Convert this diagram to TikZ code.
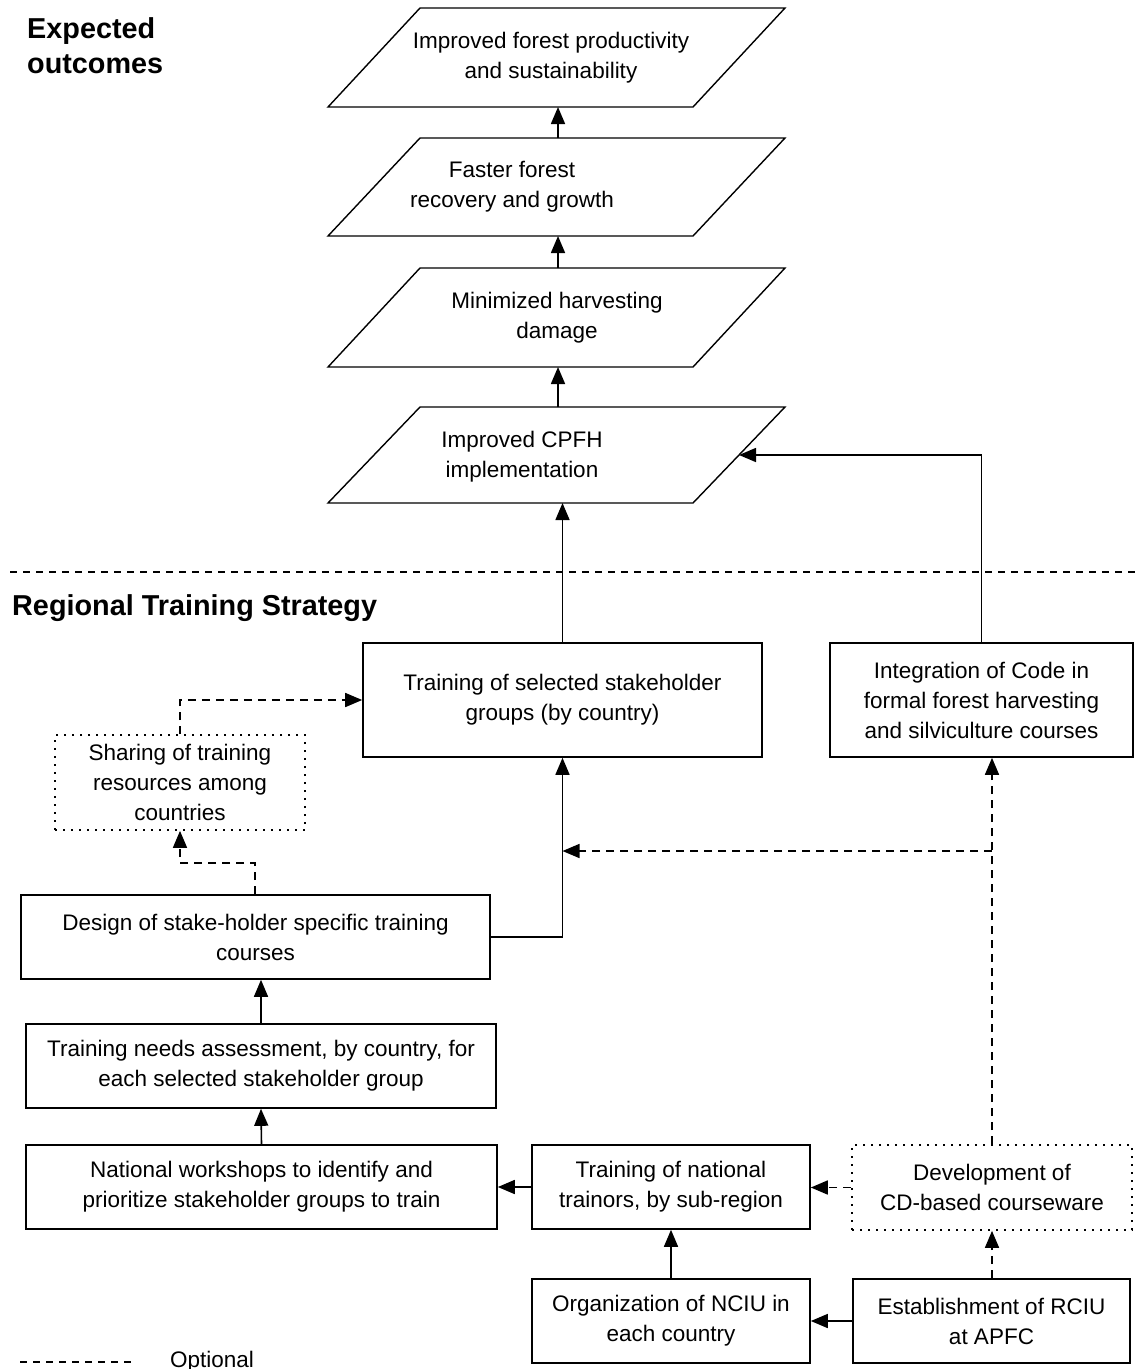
\documentclass[tikz,border=0pt]{standalone}
\usepackage{fontspec}
\setmainfont{Liberation Sans}
\usetikzlibrary{arrows.meta,calc}
\begin{document}
\begin{tikzpicture}[x=1pt,y=-1pt,
  every node/.style={font=\fontsize{22.5}{30}\selectfont, align=center, inner sep=0pt},
  box/.style={draw, line width=1.6pt, rectangle},
  optbox/.style={draw, line width=1.7pt, dash pattern=on 1.7pt off 6.3pt, rectangle},
  para/.style={draw, line width=1.4pt},
  conn/.style={line width=1.6pt},
  arr/.style={conn, -{Triangle[length=17pt,width=14pt]}},
  dsh/.style={dash pattern=on 8pt off 6pt},
  sep/.style={line width=1.4pt, dash pattern=on 7pt off 6pt},
  title/.style={font=\fontsize{28.8}{35}\selectfont\bfseries, align=left}]
\useasboundingbox (0,0) rectangle (1135,1369);

% titles
\node[title, anchor=north west] (eo) at (27,17) {Expected\\outcomes};
\node[title, anchor=base west] (rts) at (12,615) {Regional Training Strategy};
\draw[sep] (10,572) -- (1135,572);

% parallelograms (expected outcomes)
\draw[para] (420,8) -- (785,8) -- (693,107) -- (328,107) -- cycle;
\draw[para] (420,138) -- (785,138) -- (693,236) -- (328,236) -- cycle;
\draw[para] (420,268) -- (785,268) -- (693,367) -- (328,367) -- cycle;
\draw[para] (420,407) -- (785,407) -- (693,503) -- (328,503) -- cycle;
\node (p1t) at (551,58) {Improved forest productivity\\and sustainability};
\node (p2t) at (512,187) {Faster forest\\recovery and growth};
\node (p3t) at (557,318) {Minimized harvesting\\damage};
\node (p4t) at (522,457) {Improved CPFH\\implementation};
\coordinate (p1b) at (558,107);
\coordinate (p2top) at (558,138);
\coordinate (p2b) at (558,236);
\coordinate (p3top) at (558,268);
\coordinate (p3b) at (558,367);
\coordinate (p4top) at (558,407);
\coordinate (p4b) at (562,503);
\coordinate (p4r) at (739,455);

% boxes
\node[box, minimum width=399pt, minimum height=114pt] (btrain) at (562.5,700) {Training of selected stakeholder\\groups (by country)};
\node[box, minimum width=303pt, minimum height=114pt] (integ) at (981.5,700) {Integration of Code in\\formal forest harvesting\\and silviculture courses};
\node[optbox, minimum width=250pt, minimum height=95pt] (share) at (180,782.5) {Sharing of training\\resources among\\countries};
\node[box, minimum width=469pt, minimum height=84pt] (design) at (255.5,937) {Design of stake-holder specific training\\courses};
\node[box, minimum width=470pt, minimum height=84pt] (tna) at (261,1066) {Training needs assessment, by country, for\\each selected stakeholder group};
\node[box, minimum width=471pt, minimum height=84pt] (nw) at (261.5,1187) {National workshops to identify and\\prioritize stakeholder groups to train};
\node[box, minimum width=278pt, minimum height=84pt] (tnt) at (671,1187) {Training of national\\trainors, by sub-region};
\node[optbox, minimum width=280pt, minimum height=85pt] (dev) at (992,1187.5) {Development of\\CD-based courseware};
\node[box, minimum width=278pt, minimum height=84pt] (org) at (671,1321) {Organization of NCIU in\\each country};
\node[box, minimum width=277pt, minimum height=84pt] (est) at (991.5,1321) {Establishment of RCIU\\at APFC};

% connectors: outcomes chain
\draw[arr] (p2top) -- (p1b);
\draw[arr] (p3top) -- (p2b);
\draw[arr] (p4top) -- (p3b);
\draw[arr] (btrain.north) -- (btrain.north |- p4b);
\draw[arr] (integ.north) |- (p4r);

% strategy connectors
\draw[arr, dsh] (share.north) |- (btrain.west);
\coordinate (dA) at (255,863);
\coordinate (dB) at (180,863);
\draw[arr, dsh] (design.north -| dA) -- (dA) -- (dB) -- (share.south);
\draw[arr] (design.east) -| (btrain.south);
\draw[arr, dsh] (dev.north) -- (dev.north |- integ.south);
\coordinate (br) at (992,851);
\draw[arr, dsh] (br) -- (br -| btrain.south);
\draw[arr] (tna.north) -- (tna.north |- design.south);
\draw[arr] (nw.north) -- (tna.south);
\draw[arr] (tnt.west) -- (nw.east);
\draw[arr, dsh] (dev.west) -- (dev.west -| tnt.east);
\draw[arr] (org.north) -- (tnt.south);
\draw[arr] (est.west) -- (org.east);
\draw[arr, dsh] (est.north -| dev.north) -- (dev.south);

% legend
\draw[sep] (20,1362) -- (137,1362);
\node[anchor=base west] (opt) at (170,1367) {Optional};
\end{tikzpicture}
\end{document}
